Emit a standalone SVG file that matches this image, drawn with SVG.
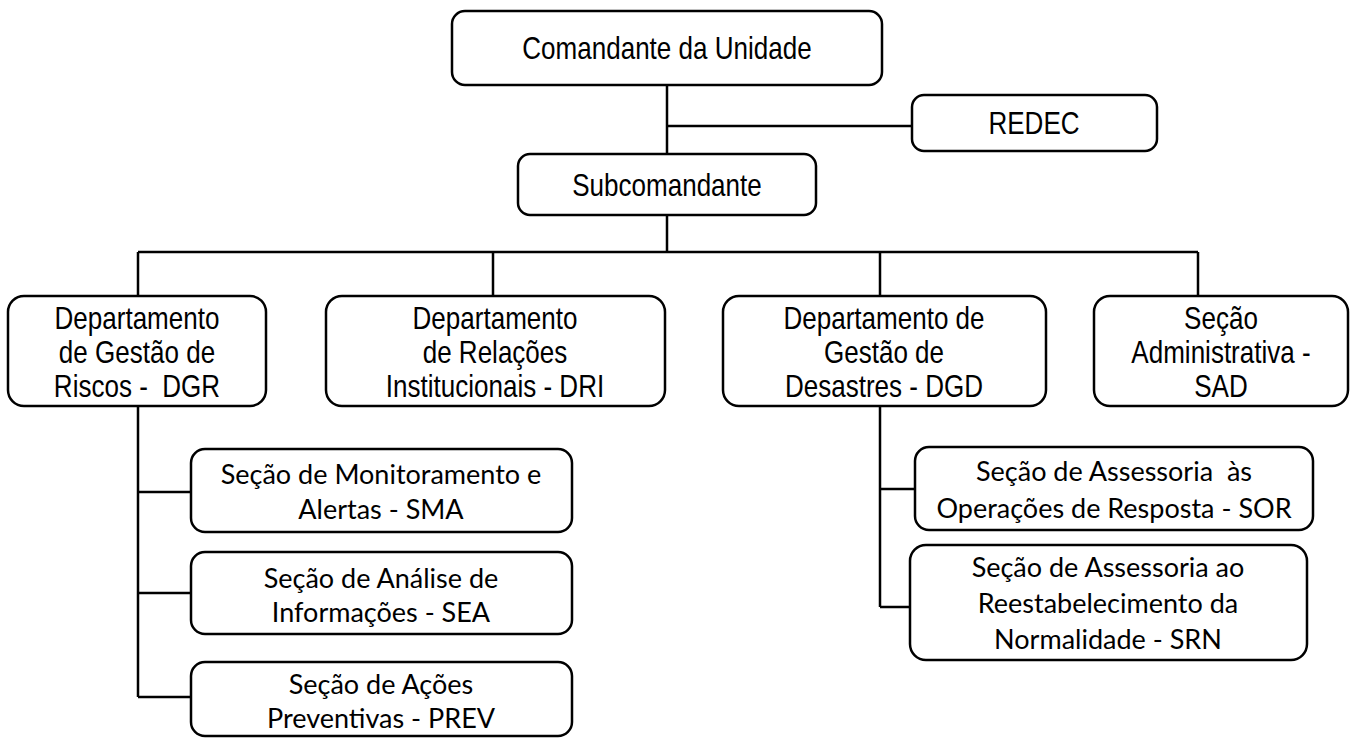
<svg xmlns="http://www.w3.org/2000/svg" width="1353" height="738" viewBox="0 0 1353 738">
<style>
.box{fill:#fff;stroke:#000;stroke-width:2.5}
.ln{fill:none;stroke:#000;stroke-width:2.5}
.c{font-family:"Liberation Sans",Arial,sans-serif;font-size:31px;fill:#000;text-anchor:middle;dominant-baseline:central}
.r{font-family:Lato,"Liberation Sans",sans-serif;font-size:27px;fill:#000;text-anchor:middle;dominant-baseline:central}
</style>
<rect width="1353" height="738" fill="#fff"/>
<g id="connectors">
<path class="ln" d="M667 85V154M667 126H912M667 215V252M138 252H1198M138 252V296M493 252V296M880 252V296M1198 252V296"/>
<path class="ln" d="M138 406V697M138 492H191M138 593H191M138 697H191"/>
<path class="ln" d="M880 406V607M880 489H915M880 607H910"/>
</g>
<g id="cmd"><rect class="box" x="452" y="11" width="430" height="74" rx="13"/><text class="c" transform="matrix(0.84 0 0 1 106.72 0)" x="667" y="48">Comandante da Unidade</text></g>
<g id="redec"><rect class="box" x="912" y="95" width="245" height="56" rx="12"/><text class="c" transform="matrix(0.84 0 0 1 165.44 0)" x="1034" y="123">REDEC</text></g>
<g id="sub"><rect class="box" x="518" y="154" width="298" height="61" rx="12"/><text class="c" transform="matrix(0.84 0 0 1 106.72 0)" x="667" y="185">Subcomandante</text></g>
<g id="dgr"><rect class="box" x="8" y="296" width="258" height="110" rx="16"/><text class="c" transform="matrix(0.84 0 0 1 21.92 0)" x="137"><tspan x="137" y="318">Departamento</tspan><tspan x="137" y="352">de Gestão de</tspan><tspan x="137" y="386">Riscos -&#160; DGR</tspan></text></g>
<g id="dri"><rect class="box" x="326" y="296" width="339" height="110" rx="16"/><text class="c" transform="matrix(0.84 0 0 1 79.2 0)" x="495"><tspan x="495" y="318">Departamento</tspan><tspan x="495" y="352">de Relações</tspan><tspan x="495" y="386">Institucionais - DRI</tspan></text></g>
<g id="dgd"><rect class="box" x="723" y="296" width="323" height="110" rx="16"/><text class="c" transform="matrix(0.84 0 0 1 141.44 0)" x="884"><tspan x="884" y="318">Departamento de</tspan><tspan x="884" y="352">Gestão de</tspan><tspan x="884" y="386">Desastres - DGD</tspan></text></g>
<g id="sad"><rect class="box" x="1094" y="296" width="254" height="110" rx="16"/><text class="c" transform="matrix(0.84 0 0 1 195.36 0)" x="1221"><tspan x="1221" y="318">Seção</tspan><tspan x="1221" y="352">Administrativa -</tspan><tspan x="1221" y="386">SAD</tspan></text></g>
<g id="sma"><rect class="box" x="191" y="449" width="381" height="83" rx="14"/><text class="r" x="381"><tspan x="381" y="473">Seção de Monitoramento e</tspan><tspan x="381" y="508">Alertas - SMA</tspan></text></g>
<g id="sea"><rect class="box" x="191" y="552" width="381" height="82" rx="14"/><text class="r" x="381"><tspan x="381" y="577">Seção de Análise de</tspan><tspan x="381" y="611">Informações - SEA</tspan></text></g>
<g id="prev"><rect class="box" x="191" y="662" width="381" height="74" rx="14"/><text class="r" x="381"><tspan x="381" y="683">Seção de Ações</tspan><tspan x="381" y="717">Preventivas - PREV</tspan></text></g>
<g id="sor"><rect class="box" x="915" y="447" width="398" height="83" rx="14"/><text class="r" x="1114"><tspan x="1114" y="470">Seção de Assessoria&#160; às</tspan><tspan x="1114" y="507">Operações de Resposta - SOR</tspan></text></g>
<g id="srn"><rect class="box" x="910" y="545" width="397" height="115" rx="16"/><text class="r" x="1108"><tspan x="1108" y="566">Seção de Assessoria ao</tspan><tspan x="1108" y="602">Reestabelecimento da</tspan><tspan x="1108" y="638">Normalidade - SRN</tspan></text></g>
</svg>
